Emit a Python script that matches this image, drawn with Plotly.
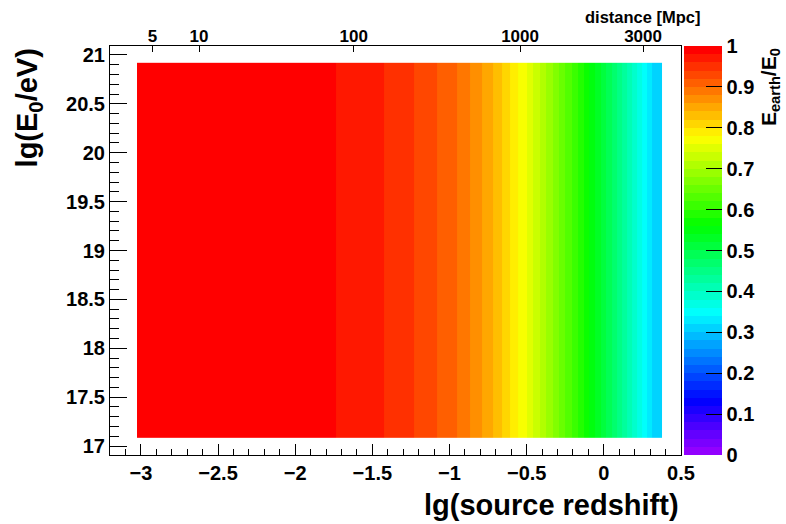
import colorsys
import plotly.graph_objects as go

# ---- data ----
# column edges in lg(source redshift) where the colour bands change
lgz_edges = [-3.025, -1.735, -1.424, -1.230, -1.081, -0.951, -0.867, -0.789,
             -0.718, -0.659, -0.608, -0.556, -0.497, -0.459, -0.413, -0.374,
             -0.332, -0.290, -0.249, -0.209, -0.170, -0.131, -0.094, -0.057,
             -0.021, 0.015, 0.050, 0.084, 0.118, 0.151, 0.184, 0.216,
             0.248, 0.279, 0.310, 0.377]
# E_earth/E_0 in each column (same for every energy row)
ratio = [0.99, 0.97, 0.95, 0.93, 0.91, 0.89, 0.87, 0.85, 0.83, 0.81,
         0.79, 0.77, 0.75, 0.73, 0.71, 0.69, 0.67, 0.65, 0.63, 0.61,
         0.59, 0.57, 0.55, 0.53, 0.51, 0.49, 0.47, 0.45, 0.43, 0.41,
         0.39, 0.37, 0.35, 0.33, 0.31]
lgE_edges = [17.08, 20.92]
z_rows = [ratio]

# top axis: distance labels and their positions in lg z
dist_labels = ["5", "10", "100", "1000", "3000"]
dist_lgz = [-2.925, -2.623, -1.621, -0.543, 0.254]

cb_ticks = [0, 0.1, 0.2, 0.3, 0.4, 0.5, 0.6, 0.7, 0.8, 0.9, 1]

# ---- ROOT "pretty" palette: 50 colours, violet -> red ----
ncol = 50
colorscale = []
for i in range(ncol):
    hue = 280 - (i + 1) * (280 / ncol)
    r, g, b = colorsys.hls_to_rgb(hue / 360.0, 0.5, 1.0)
    c = "rgb(%d,%d,%d)" % (round(r * 255), round(g * 255), round(b * 255))
    colorscale.append([i / ncol, c])
    colorscale.append([(i + 1) / ncol, c])

FONT = "Liberation Sans"

fig = go.Figure()
fig.add_trace(go.Heatmap(
    x=lgz_edges, y=lgE_edges, z=z_rows,
    zmin=0, zmax=1, colorscale=colorscale,
    colorbar=dict(
        x=1.005, xanchor="left", xpad=0, y=0.5, yanchor="middle",
        len=1, lenmode="fraction", ypad=0, thickness=38, thicknessmode="pixels",
        outlinewidth=0, tickmode="array", tickvals=cb_ticks,
        ticks="inside", ticklen=16, tickcolor="black", tickwidth=1,
        tickfont=dict(family=FONT, size=20, color="black", weight="bold"),
    ),
    hoverinfo="skip",
))
# invisible trace to activate the top axis
fig.add_trace(go.Scatter(x=dist_lgz, y=[19, 19, 19, 19, 19], xaxis="x2",
                         mode="markers", marker=dict(opacity=0),
                         showlegend=False, hoverinfo="skip"))

fig.update_layout(
    width=786, height=524,
    margin=dict(l=110, r=105, t=46, b=69),
    paper_bgcolor="white", plot_bgcolor="white",
    font=dict(family=FONT, color="black"),
    showlegend=False,
    xaxis=dict(
        range=[-3.2, 0.5], tick0=0, dtick=0.5, ticks="inside", ticklen=11,
        tickcolor="black", showline=True, linecolor="black", linewidth=1,
        mirror=True, showgrid=False, zeroline=False,
        tickfont=dict(family=FONT, size=20, color="black", weight="bold"),
        minor=dict(dtick=0.1, tick0=0, ticks="inside", ticklen=6,
                   tickcolor="black", showgrid=False),
    ),
    xaxis2=dict(
        overlaying="x", side="top", range=[-3.2, 0.5], tickmode="array",
        tickvals=dist_lgz, ticktext=dist_labels, ticks="inside", ticklen=6,
        tickcolor="black", showgrid=False, zeroline=False, showline=False,
        tickfont=dict(family=FONT, size=17, color="black", weight="bold"),
    ),
    yaxis=dict(
        range=[16.908, 21.092], tick0=0, dtick=0.5, ticks="inside", ticklen=17,
        tickcolor="black", showline=True, linecolor="black", linewidth=1,
        mirror=True, showgrid=False, zeroline=False,
        tickfont=dict(family=FONT, size=20, color="black", weight="bold"),
        minor=dict(dtick=0.1, tick0=0, ticks="inside", ticklen=9,
                   tickcolor="black", showgrid=False),
    ),
)

fig.add_annotation(text="lg(source redshift)", xref="paper", yref="paper",
                   x=1.0, y=-0.122, xanchor="right", yanchor="middle",
                   showarrow=False,
                   font=dict(family=FONT, size=29, color="black", weight="bold"))
fig.add_annotation(text="lg(E<sub>0</sub>/eV)", xref="paper", yref="paper",
                   x=-0.142, y=1.0, xanchor="center", yanchor="top",
                   textangle=-90, showarrow=False,
                   font=dict(family=FONT, size=29, color="black", weight="bold"))
fig.add_annotation(text="E<sub>earth</sub>/E<sub>0</sub>", xref="paper", yref="paper",
                   x=1.156, y=1.0, xanchor="center", yanchor="top",
                   textangle=-90, showarrow=False,
                   font=dict(family=FONT, size=21, color="black", weight="bold"))
fig.add_annotation(text="distance [Mpc]", xref="paper", yref="paper",
                   x=1.0385, y=1.071, xanchor="right", yanchor="middle",
                   showarrow=False,
                   font=dict(family=FONT, size=16.5, color="black", weight="bold"))

fig.write_html("out.html")
